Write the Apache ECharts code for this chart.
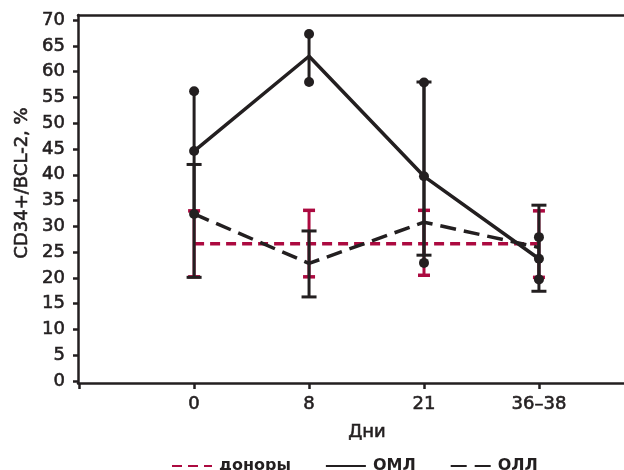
<!DOCTYPE html>
<html>
<head>
<meta charset="utf-8">
<title>CD34+/BCL-2</title>
<script src="https://cdn.jsdelivr.net/npm/echarts@6/dist/echarts.min.js"></script>
<style>
  html, body { margin: 0; padding: 0; background: #fff; }
  #main { width: 624px; height: 470px; }
</style>
</head>
<body>
<div id="main"></div>
<script>
// days on the x axis (positions 0..3)
var dayLabels = ['0', '8', '21', '36–38']
var yTicks = [0, 5, 10, 15, 20, 25, 30, 35, 40, 45, 50, 55, 60, 65, 70]
var xTicks = [-1, 0, 1, 2, 3]

// доноры
var donorMean = [26.6, 26.6, 26.6, 26.6]
var donorLow = [20.2, 20.2, 20.5, 20.1]
var donorHigh = [33.0, 33.1, 33.1, 33.0]
// ОМЛ
var omlMean = [44.6, 63.0, 39.7, 23.7]
var omlLow = [32.4, 58.0, 22.9, 19.7]
var omlHigh = [56.2, 67.3, 57.9, 27.9]
// ОЛЛ
var ollMean = [32.4, 22.8, 30.8, 25.9]
var ollLow = [20.1, 16.3, 24.4, 17.4]
var ollHigh = [42.0, 29.1, 58.0, 34.1]

var ink = '#231f20'
var red = '#ac0a40'
var font = 'DejaVu Sans'
// slightly heavier strokes for the text, like the printed figure
var heavy = { textBorderColor: ink, textBorderWidth: 0.6 }

function pts(arr) {
  return arr.map(function (v, i) { return [i, v] })
}
function bars(low, high) {
  return low.map(function (v, i) { return [i, v, high[i]] })
}

// vertical whisker with optional caps
function whisker(color, width, capW, capLineW, withCaps) {
  return function (params, api) {
    var x = api.value(0)
    var lo = api.coord([x, api.value(1)])
    var hi = api.coord([x, api.value(2)])
    var children = [{
      type: 'line',
      shape: { x1: lo[0], y1: lo[1], x2: hi[0], y2: hi[1] },
      style: { stroke: color, lineWidth: width }
    }]
    if (withCaps) {
      [lo, hi].forEach(function (p) {
        children.push({
          type: 'line',
          shape: { x1: p[0] - capW / 2, y1: p[1], x2: p[0] + capW / 2, y2: p[1] },
          style: { stroke: color, lineWidth: capLineW }
        })
      })
    }
    return { type: 'group', children: children }
  }
}

// dots on the ОМЛ whiskers and means (no dot drawn on the day-8 mean)
var omlDots = pts(omlLow).concat(pts(omlHigh)).concat(pts(omlMean).filter(function (p) { return p[0] !== 1 }))

var chart = echarts.init(document.getElementById('main'), null, { renderer: 'canvas' })
chart.setOption({
  animation: false,
  textStyle: { fontFamily: font, color: ink },
  grid: { left: 78, right: 0, top: 15, bottom: 87, outerBoundsMode: 'none' },
  legend: {
    left: 166,
    top: 453,
    itemWidth: 40,
    itemHeight: 14,
    itemGap: 34,
    itemStyle: { opacity: 0 },
    data: ['доноры', 'ОМЛ', 'ОЛЛ'],
    textStyle: Object.assign({ fontFamily: font, fontSize: 16, fontWeight: 'bold', color: ink, padding: [0, 0, 0, 2] })
  },
  xAxis: [{
    type: 'value',
    min: -1.01,
    max: 3.74,
    name: 'Дни',
    nameLocation: 'middle',
    nameGap: 40,
    nameTextStyle: Object.assign({ fontFamily: font, fontSize: 18, color: ink, padding: [0, 0, 0, 32] }, heavy),
    splitLine: { show: false },
    axisLine: { onZero: false, lineStyle: { color: ink, width: 2.5 } },
    axisTick: { length: 6, lineStyle: { color: ink, width: 2.5 }, customValues: xTicks },
    axisLabel: Object.assign({
      customValues: xTicks,
      margin: 12,
      fontFamily: font, fontSize: 18, color: ink,
      formatter: function (v) { var i = Math.round(v); return i >= 0 ? dayLabels[i] : '' }
    }, heavy)
  }, {
    type: 'value',
    position: 'top',
    min: -1.01,
    max: 3.74,
    splitLine: { show: false },
    axisLine: { onZero: false, lineStyle: { color: ink, width: 2.5 } },
    axisTick: { show: false },
    axisLabel: { show: false }
  }],
  yAxis: {
    type: 'value',
    min: -0.4,
    max: 71,
    splitLine: { show: false },
    axisLine: { show: true, onZero: false, lineStyle: { color: ink, width: 2.5 } },
    axisTick: { show: true, length: 5, lineStyle: { color: ink, width: 2.5 }, customValues: yTicks },
    axisLabel: Object.assign({ customValues: yTicks, margin: 13, fontFamily: font, fontSize: 18, color: ink }, heavy)
  },
  graphic: [{
    type: 'text',
    x: 22,
    y: 183,
    rotation: Math.PI / 2,
    style: {
      text: 'CD34+/BCL-2, %',
      fill: ink,
      stroke: ink,
      lineWidth: 0.6,
      font: '18px "DejaVu Sans"',
      align: 'center',
      verticalAlign: 'middle'
    }
  }],
  series: [
    {
      name: 'донорыbars',
      type: 'custom',
      renderItem: whisker(red, 3, 12, 3.5, true),
      data: bars(donorLow, donorHigh),
      z: 1
    },
    {
      name: 'доноры',
      type: 'line',
      data: pts(donorMean),
      symbol: 'none',
      lineStyle: { color: red, width: 3.5, type: [10, 6] },
      itemStyle: { color: red },
      z: 2
    },
    {
      name: 'ОЛЛ',
      type: 'line',
      data: pts(ollMean),
      symbol: 'none',
      lineStyle: { color: ink, width: 3.5, type: [16, 8] },
      itemStyle: { color: ink },
      z: 3
    },
    {
      name: 'ОМЛ',
      type: 'line',
      data: pts(omlMean),
      symbol: 'none',
      lineStyle: { color: ink, width: 3.5 },
      itemStyle: { color: ink },
      z: 3
    },
    {
      name: 'ОЛЛbars',
      type: 'custom',
      renderItem: whisker(ink, 3, 15, 3, true),
      data: bars(ollLow, ollHigh),
      z: 4
    },
    {
      name: 'ОМЛbars',
      type: 'custom',
      renderItem: whisker(ink, 3, 0, 0, false),
      data: bars(omlLow, omlHigh),
      z: 4
    },
    {
      name: 'ОМЛdots',
      type: 'scatter',
      data: omlDots,
      symbol: 'circle',
      symbolSize: 10,
      itemStyle: { color: ink, opacity: 1 },
      z: 5
    }
  ]
})
</script>
</body>
</html>
